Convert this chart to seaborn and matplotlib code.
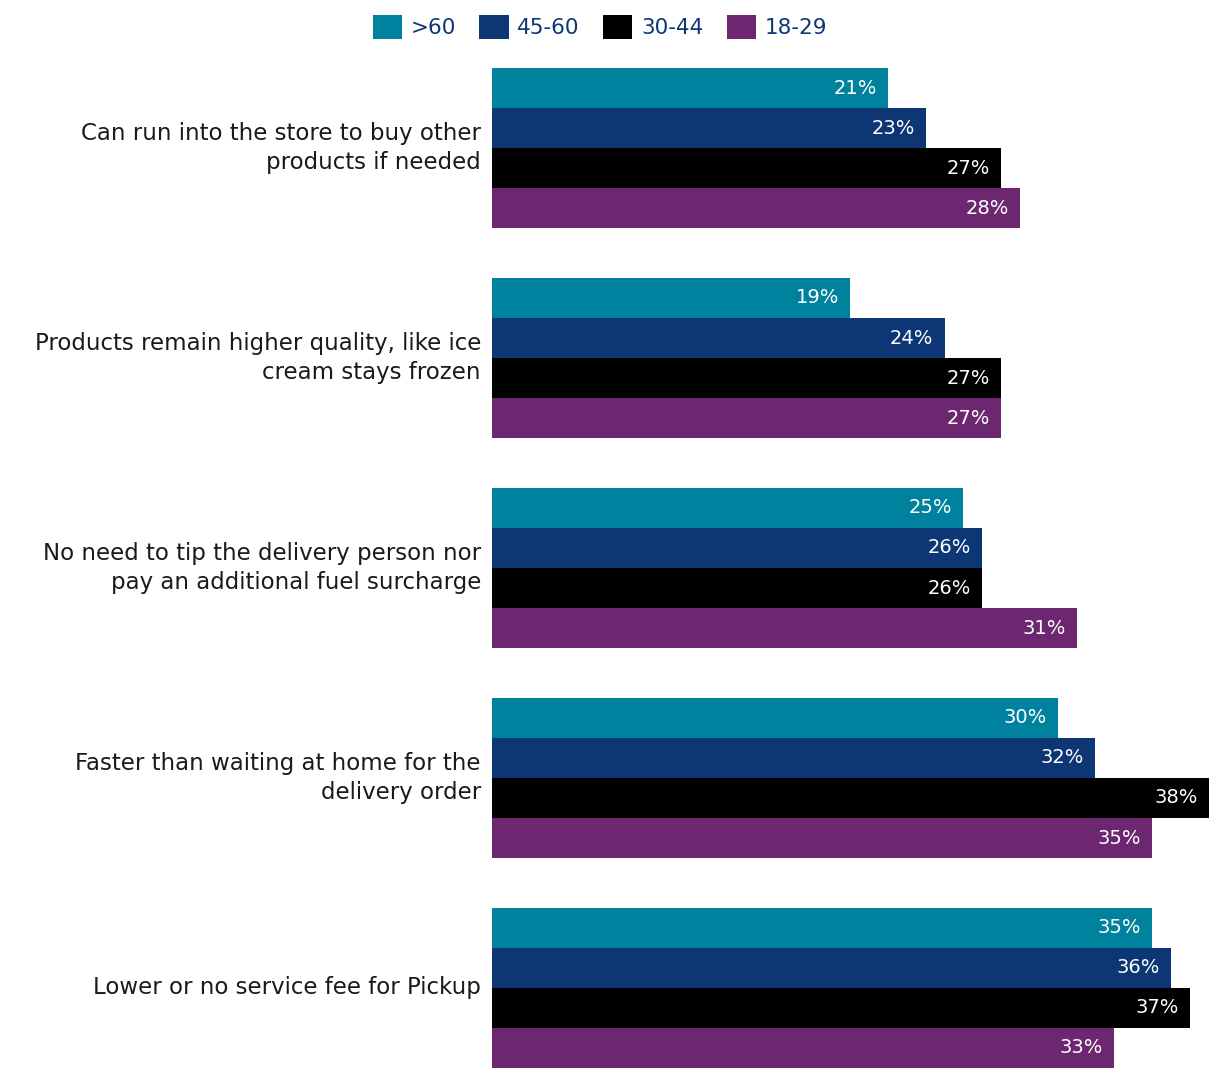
import matplotlib
matplotlib.use("Agg")
import matplotlib.pyplot as plt
import seaborn as sns
import pandas as pd
from matplotlib.patches import Patch

categories = [
    "Can run into the store to buy other\nproducts if needed",
    "Products remain higher quality, like ice\ncream stays frozen",
    "No need to tip the delivery person nor\npay an additional fuel surcharge",
    "Faster than waiting at home for the\ndelivery order",
    "Lower or no service fee for Pickup",
]
groups = [">60", "45-60", "30-44", "18-29"]
over60 = [21, 19, 25, 30, 35]
age45_60 = [23, 24, 26, 32, 36]
age30_44 = [27, 27, 26, 38, 37]
age18_29 = [28, 27, 31, 35, 33]
colors = ["#00829F", "#0D3674", "#000000", "#6D2771"]

series = [over60, age45_60, age30_44, age18_29]
rows = []
for g, vals in zip(groups, series):
    for c, v in zip(categories, vals):
        rows.append({"category": c, "group": g, "value": v})
df = pd.DataFrame(rows)

sns.set_style("white")
plt.rcParams["font.family"] = ["DejaVu Sans"]

fig = plt.figure(figsize=(12.2, 10.8), dpi=100)
ax = fig.add_axes([492 / 1220, 1 - 1068 / 1080, (1208.6 - 492) / 1220, 1000 / 1080])

sns.barplot(data=df, y="category", x="value", hue="group", order=categories,
            hue_order=groups, palette=colors, width=0.762, orient="h",
            saturation=1, ax=ax, legend=False, errorbar=None, linewidth=0)

for cont in ax.containers:
    texts = ax.bar_label(cont, labels=[f"{int(v)}%" for v in cont.datavalues],
                         padding=-8, color="white", fontsize=14)
    for t in texts:
        t.set_ha("right")

ax.set_xlim(0, 38)
ax.set_ylim(4.381, -0.381)
ax.set_xlabel("")
ax.set_ylabel("")
ax.set_xticks([])
ax.tick_params(axis="y", length=0, pad=8, labelsize=16.5, labelcolor="#1a1a1a")
for lbl in ax.get_yticklabels():
    lbl.set_linespacing(1.3)
    lbl.set_multialignment("right")
    lbl.set_va("center")
for s in ax.spines.values():
    s.set_visible(False)

handles = [Patch(facecolor=c, edgecolor="none") for c in colors]
leg = fig.legend(handles, groups, loc="center", bbox_to_anchor=(600 / 1220, 1 - 27 / 1080),
                 ncol=4, frameon=False, fontsize=15.5, handlelength=1.35, handleheight=1.35,
                 handletextpad=0.4, columnspacing=1.1, borderaxespad=0)
for t in leg.get_texts():
    t.set_color("#0D3674")

fig.savefig("out.png", dpi=100, facecolor="white")
